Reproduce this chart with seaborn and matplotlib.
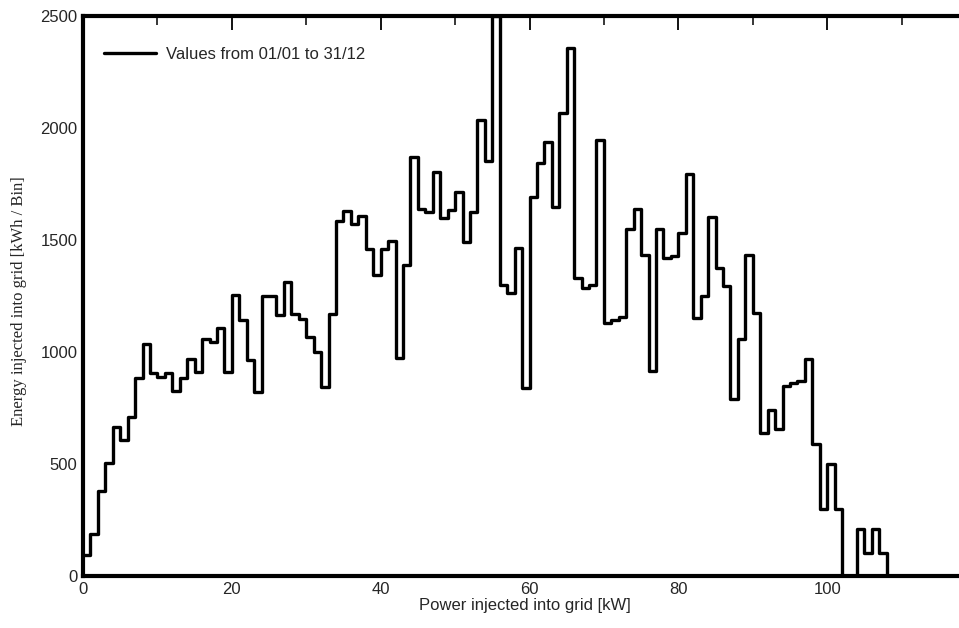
import numpy as np
import pandas as pd
import matplotlib
matplotlib.use("Agg")
import matplotlib.pyplot as plt
from matplotlib.lines import Line2D
from matplotlib.ticker import MultipleLocator
import seaborn as sns

# Bin lower edges (kW) and energy per bin (kWh / Bin)
bin_start = list(range(0, 109))
energy = [
    95, 188, 379, 503, 667, 607, 708, 885, 1034, 905,
    890, 908, 827, 885, 967, 912, 1057, 1046, 1106, 912,
    1254, 1143, 965, 823, 1250, 1248, 1165, 1314, 1170, 1147,
    1065, 1001, 845, 1170, 1585, 1629, 1570, 1609, 1460, 1344,
    1458, 1495, 972, 1388, 1872, 1637, 1626, 1805, 1600, 1634,
    1716, 1492, 1626, 2036, 1853, 2500, 1299, 1262, 1463, 838,
    1690, 1843, 1939, 1649, 2066, 2359, 1329, 1284, 1299, 1946,
    1131, 1143, 1158, 1548, 1637, 1433, 915, 1548, 1418, 1428,
    1530, 1793, 1150, 1250, 1604, 1374, 1296, 791, 1059, 1435,
    1176, 640, 741, 655, 848, 860, 870, 970, 589, 297,
    500, 299, 0, 0, 208, 101, 208, 104, 0,
]
x_ticks = [0, 20, 40, 60, 80, 100]
legend_label = "Values from 01/01 to 31/12"
x_label = "Power injected into grid [kW]"
y_label = "Energy injected into grid [kWh / Bin]"

df = pd.DataFrame({"power": np.array(bin_start, dtype=float) + 0.5,
                   "energy": np.array(energy, dtype=float)})

sns.set_style("white")
plt.rcParams["font.family"] = ["Liberation Sans", "DejaVu Sans"]

W, H = 959, 628
fig = plt.figure(figsize=(W / 100, H / 100), dpi=100)
x0, x1 = 83, 976
y0, y1 = 576, 16
ax = fig.add_axes([x0 / W, (H - y0) / H, (x1 - x0) / W, (y0 - y1) / H])

sns.histplot(data=df, x="power", weights="energy",
             bins=len(bin_start), binrange=(0, len(bin_start)),
             element="step", fill=False, color="black",
             linewidth=2.4, ax=ax)

ax.set_xlim(0, 120)
ax.set_ylim(0, 2500)
ax.set_xticks(x_ticks)
ax.xaxis.set_minor_locator(MultipleLocator(10))
ax.yaxis.set_major_locator(MultipleLocator(500))
ax.yaxis.set_minor_locator(MultipleLocator(100))
ax.tick_params(which="both", direction="in", top=True, right=True,
               color="black", labelsize=12, pad=4)
ax.tick_params(which="major", length=10, width=1.3)
ax.tick_params(which="minor", length=6.5, width=1.1)
for s in ax.spines.values():
    s.set_color("black")
    s.set_linewidth(3)

ax.set_xlabel(x_label, fontsize=12)
ax.xaxis.set_label_coords(0.495, -0.040)
ax.set_ylabel(y_label, fontsize=12, family=["Liberation Serif", "DejaVu Serif"])
ax.yaxis.set_label_coords(-0.0625, 0.49)

handle = Line2D([0], [0], color="black", linewidth=2.4)
ax.legend([handle], [legend_label], loc="center left", frameon=False,
          fontsize=12, handlelength=3.1, handletextpad=0.6,
          borderaxespad=0, borderpad=0,
          bbox_to_anchor=(0.0235, 0.932))

fig.savefig("out.png", dpi=100)
